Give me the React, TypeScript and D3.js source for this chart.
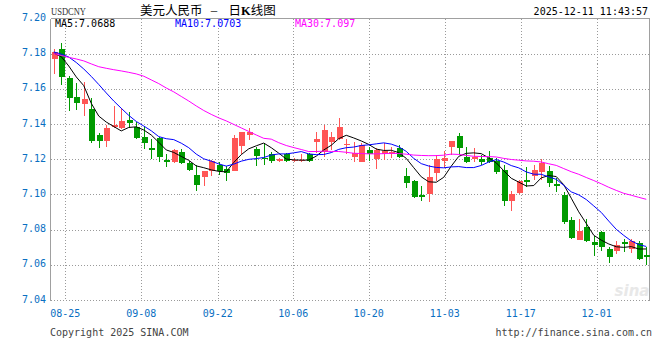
import React from "react";
import * as d3 from "d3";

// ---- data ----
const opens = [
  7.1772, 7.1827, 7.1662, 7.1554, 7.1516, 7.1486, 7.1338, 7.1306, 7.1384, 7.138,
  7.1423, 7.1382, 7.1325, 7.1266, 7.1321, 7.1198, 7.1187, 7.1242, 7.1178, 7.1111,
  7.1101, 7.1136, 7.1166, 7.1144, 7.1136, 7.1277, 7.134, 7.1257, 7.1209, 7.123,
  7.1191, 7.123, 7.1191, 7.1191, 7.1229, 7.1297, 7.1244, 7.13, 7.1316, 7.1284,
  7.1215, 7.1187, 7.1253, 7.1202, 7.123, 7.123, 7.1263, 7.1105, 7.1077, 7.0998,
  7.1003, 7.1121, 7.1192, 7.1272, 7.1333, 7.1215, 7.12, 7.1202, 7.1209, 7.1191,
  7.1139, 7.0963, 7.1007, 7.1083, 7.1105, 7.1128, 7.1134, 7.1058, 7.0998, 7.0856,
  7.0742, 7.0814, 7.0729, 7.0788, 7.0691, 7.0679, 7.0732, 7.0689, 7.0723, 7.0657,
];
const closes = [
  7.1808, 7.1669, 7.155, 7.1522, 7.1543, 7.1306, 7.1306, 7.138, 7.1395, 7.1418,
  7.1405, 7.1323, 7.1291, 7.1251, 7.1212, 7.1187, 7.1253, 7.1178, 7.1139, 7.1054,
  7.1136, 7.1191, 7.1136, 7.1124, 7.1323, 7.1357, 7.1357, 7.1221, 7.1202, 7.1191,
  7.1202, 7.1191, 7.1196, 7.1196, 7.1191, 7.1314, 7.1367, 7.1329, 7.1385, 7.1286,
  7.1238, 7.1282, 7.123, 7.1253, 7.1247, 7.1243, 7.1215, 7.1067, 7.0988, 7.0988,
  7.1101, 7.1202, 7.1209, 7.1304, 7.1266, 7.1187, 7.1215, 7.1187, 7.1183, 7.1126,
  7.0963, 7.1001, 7.1077, 7.1073, 7.1139, 7.1181, 7.1066, 7.1049, 7.0842, 7.0755,
  7.0793, 7.0736, 7.0714, 7.0703, 7.0646, 7.0714, 7.0719, 7.0736, 7.0634, 7.0647,
];
const highs = [
  7.1825, 7.1863, 7.1673, 7.1632, 7.1639, 7.1549, 7.1351, 7.1393, 7.1503, 7.1492,
  7.1469, 7.1412, 7.1382, 7.1314, 7.1325, 7.1229, 7.126, 7.1257, 7.1191, 7.1168,
  7.1136, 7.1196, 7.1187, 7.1162, 7.1338, 7.1357, 7.138, 7.1272, 7.1291, 7.1242,
  7.1208, 7.1236, 7.1208, 7.1229, 7.1234, 7.1354, 7.1395, 7.1355, 7.1435, 7.1313,
  7.1297, 7.1291, 7.1272, 7.1263, 7.1291, 7.1272, 7.1282, 7.1149, 7.1083, 7.1049,
  7.1168, 7.1225, 7.1249, 7.1304, 7.1351, 7.1272, 7.1263, 7.1225, 7.1247, 7.1206,
  7.1168, 7.102, 7.1083, 7.1158, 7.1168, 7.1202, 7.1162, 7.1092, 7.1016, 7.0874,
  7.0861, 7.0861, 7.0761, 7.0793, 7.0704, 7.0738, 7.0746, 7.0746, 7.0736, 7.0704,
];
const lows = [
  7.1683, 7.1622, 7.1476, 7.148, 7.1446, 7.1293, 7.1266, 7.1272, 7.138, 7.1374,
  7.1376, 7.1317, 7.126, 7.1202, 7.1187, 7.1158, 7.1181, 7.1172, 7.1132, 7.1022,
  7.105, 7.1105, 7.1111, 7.1077, 7.1132, 7.123, 7.131, 7.1164, 7.1166, 7.118,
  7.1185, 7.1185, 7.1185, 7.1187, 7.1187, 7.1234, 7.1215, 7.1253, 7.131, 7.1228,
  7.1183, 7.1183, 7.1191, 7.1145, 7.1196, 7.1209, 7.1206, 7.1036, 7.0979, 7.096,
  7.0956, 7.1077, 7.1149, 7.1225, 7.1225, 7.1178, 7.1187, 7.1168, 7.1178, 7.1115,
  7.0937, 7.0908, 7.1003, 7.1045, 7.1083, 7.1083, 7.1045, 7.1016, 7.0833, 7.0746,
  7.0742, 7.0732, 7.0651, 7.0679, 7.061, 7.0661, 7.067, 7.0666, 7.0628, 7.06,
];

// moving-average values before enough closes are on screen
const ma5Lead = [7.1804, 7.1783, 7.173, 7.1668];
const ma10Lead = [7.181, 7.1798, 7.1781, 7.175, 7.1713, 7.1671, 7.1625, 7.1577, 7.1531];
const ma30Lead = [
  7.1801, 7.179, 7.1779, 7.177, 7.1759, 7.1742, 7.1726, 7.1717, 7.1709, 7.1702,
  7.1694, 7.1685, 7.1672, 7.1651, 7.163, 7.1605, 7.1583, 7.1557, 7.1531, 7.1503,
  7.1477, 7.1455, 7.1435, 7.1418, 7.1398, 7.1378, 7.1358, 7.1338, 7.1319,
];

const yTicks = [7.04, 7.06, 7.08, 7.1, 7.12, 7.14, 7.16, 7.18, 7.2];
const xTickLabels = ["08-25", "09-08", "09-22", "10-06", "10-20", "11-03", "11-17", "12-01"];
const xTickPos = [1.54, 11.67, 21.86, 31.94, 41.99, 52.13, 62.26, 72.39];

const symbol = "USDCNY";
const titleA = "美元人民币";
const titleDash = "－";
const titleDay = "日";
const titleK = "K";
const titleB = "线图";
const maLabels = ["MA5:7.0688", "MA10:7.0703", "MA30:7.097"];
const maColors = ["#000000", "#0000ff", "#ff00ff"];
const timestamp = "2025-12-11 11:43:57";
const copyright = "Copyright 2025 SINA.COM";
const site = "http://finance.sina.com.cn";

const W = 660;
const H = 360;
const L = 50.5;
const R = 649.5;
const T = 18.5;
const B = 300.5;
const MONO = "'DejaVu Sans Mono', 'Liberation Mono', monospace";
const AXIS_BLUE = "#0a6fc2";
const UP = "#ff5555";
const DOWN = "#009a00";

function movingAvg(period: number, lead: number[]) {
  return closes.map((_, i) =>
    i < lead.length ? lead[i] : (d3.mean(closes.slice(i - period + 1, i + 1)) as number)
  );
}

export default function App() {
  const n = closes.length;
  const x = d3.scaleLinear().domain([0, n - 1]).range([53.75, 646.25]);
  const y = d3.scaleLinear().domain([7.04, 7.2]).range([300, 18.5]);

  const mas = [movingAvg(5, ma5Lead), movingAvg(10, ma10Lead), movingAvg(30, ma30Lead)];
  const line = d3
    .line<number>()
    .x((_, i) => x(i))
    .y((d) => y(d));

  const bodyW = 6;

  return (
    <svg
      width={W}
      height={H}
      viewBox={`0 0 ${W} ${H}`}
      style={{ position: "absolute", left: 0, top: 0, display: "block", background: "#fff" }}
    >
      <rect x={0} y={0} width={W} height={H} fill="#fff" />

      {/* horizontal grid */}
      {yTicks.map((t) => {
        const yy = Math.round(y(t)) + 0.5;
        if (t === 7.2) return null;
        return (
          <line
            key={"h" + t}
            x1={L}
            x2={R}
            y1={yy}
            y2={yy}
            stroke="#9a9a9a"
            strokeDasharray="1,2"
            shapeRendering="crispEdges"
          />
        );
      })}
      {/* vertical grid */}
      {xTickPos.map((p, i) => {
        const xx = Math.round(x(p)) + 0.5;
        return (
          <line
            key={"v" + i}
            x1={xx}
            x2={xx}
            y1={T}
            y2={B - 1}
            stroke="#9a9a9a"
            strokeDasharray="1,2"
            shapeRendering="crispEdges"
          />
        );
      })}

      {/* frame */}
      <line x1={L} x2={R} y1={T} y2={T} stroke="#a0a0a0" shapeRendering="crispEdges" />
      <line x1={L} x2={L} y1={T} y2={B} stroke="#a0a0a0" shapeRendering="crispEdges" />
      <line x1={R} x2={R} y1={T} y2={B} stroke="#a0a0a0" shapeRendering="crispEdges" />

      {/* watermark */}
      <text
        x={632}
        y={296}
        textAnchor="middle"
        fontFamily="'DejaVu Sans', sans-serif"
        fontStyle="italic"
        fontWeight="bold"
        fontSize={15}
        fill="#e8e8e8"
      >
        sina
      </text>

      {/* candles */}
      {closes.map((c, i) => {
        const o = opens[i];
        const up = c >= o;
        const col = up ? UP : DOWN;
        const cx = Math.round(x(i));
        const top = Math.round(y(Math.max(o, c)));
        const bot = Math.round(y(Math.min(o, c)));
        const h = Math.max(1, bot - top);
        return (
          <g key={"c" + i} shapeRendering="crispEdges">
            <line
              x1={cx + 0.5}
              x2={cx + 0.5}
              y1={Math.round(y(highs[i]))}
              y2={Math.round(y(lows[i]))}
              stroke={col}
              strokeWidth={1}
            />
            <rect x={cx - bodyW / 2 + 1} y={top} width={bodyW} height={h} fill={col} />
          </g>
        );
      })}

      {/* moving averages */}
      {mas.map((m, k) => (
        <path key={"ma" + k} d={line(m) || ""} fill="none" stroke={maColors[k]} strokeWidth={1} />
      ))}

      {/* bottom dotted border */}
      <line
        x1={L}
        x2={R}
        y1={B}
        y2={B}
        stroke="#9a9a9a"
        strokeDasharray="1,2"
        shapeRendering="crispEdges"
      />

      {/* y labels */}
      {yTicks.map((t) => (
        <text
          key={"yl" + t}
          x={46}
          y={y(t) - 1}
          textAnchor="end"
          dominantBaseline="central"
          fontFamily={MONO}
          fontSize={10}
          fill={AXIS_BLUE}
        >
          {t.toFixed(2)}
        </text>
      ))}

      {/* x labels */}
      {xTickLabels.map((lab, i) => (
        <text
          key={"xl" + i}
          x={x(xTickPos[i])}
          y={317}
          textAnchor="middle"
          fontFamily={MONO}
          fontSize={10}
          fill={AXIS_BLUE}
        >
          {lab}
        </text>
      ))}

      {/* header */}
      <text
        x={51}
        y={15}
        fontFamily="'Liberation Serif', serif"
        fontSize={11}
        fill="#333"
        textLength={35}
        lengthAdjust="spacingAndGlyphs"
      >
        {symbol}
      </text>
      <text x={140} y={14.5} fontFamily="'Noto Sans CJK SC', sans-serif" fontSize={12.5} fill="#000">
        {titleA}
        <tspan dx={7} fontSize={9}>
          {titleDash}
        </tspan>
        <tspan dx={10}>{titleDay}</tspan>
        <tspan fontFamily="'Liberation Serif', serif" fontWeight="bold">
          {titleK}
        </tspan>
        {titleB}
      </text>
      <text x={648} y={15} textAnchor="end" fontFamily={MONO} fontSize={10} fill="#000">
        {timestamp}
      </text>
      {maLabels.map((s, k) => (
        <text key={"mal" + k} x={55 + 120 * k} y={27} fontFamily={MONO} fontSize={10} fill={maColors[k]}>
          {s}
        </text>
      ))}

      {/* footer */}
      <text x={50} y={336} fontFamily={MONO} fontSize={10} fill="#444">
        {copyright}
      </text>
      <text x={652} y={336} textAnchor="end" fontFamily={MONO} fontSize={10} fill="#444">
        {site}
      </text>
    </svg>
  );
}
